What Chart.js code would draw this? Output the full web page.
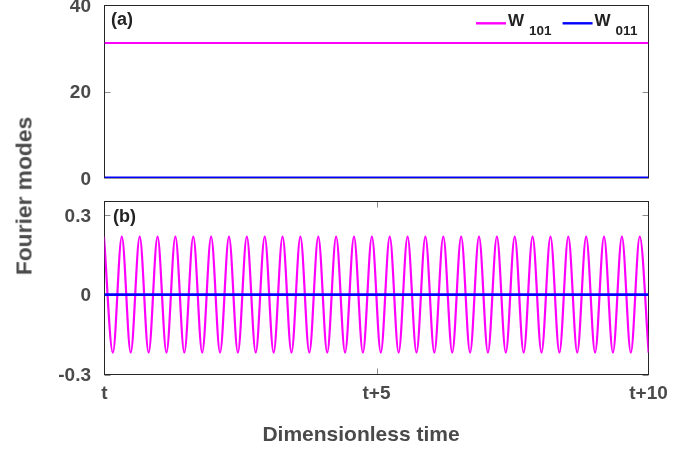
<!DOCTYPE html>
<html>
<head>
<meta charset="utf-8">
<script src="https://cdn.jsdelivr.net/npm/chart.js@4"></script>
<style>
  body { margin: 0; background: #fff; width: 685px; height: 450px; position: relative; overflow: hidden;
         font-family: 'Liberation Sans', Arial, sans-serif; }
  #panelA { position: absolute; left: 0; top: 0; width: 685px; height: 190px; }
  #panelB { position: absolute; left: 0; top: 190px; width: 685px; height: 260px; }
  .axtitle { position: absolute; font-weight: bold; color: #4a4a4a; white-space: nowrap; }
  .ytitle { left: 23.5px; top: 196px; transform: translate(-50%, -50%) rotate(-90deg); font-size: 22.8px; }
  .xtitle { left: 361px; top: 434px; transform: translate(-50%, -50%); font-size: 21px; }
</style>
</head>
<body>
<div id="panelA"><canvas id="chartA"></canvas></div>
<div id="panelB"><canvas id="chartB"></canvas></div>
<div class="axtitle ytitle">Fourier modes</div>
<div class="axtitle xtitle">Dimensionless time</div>

<script>
// time axis
const timeSpan = [0, 10];
const timeTicks = [0, 5, 10];
const timeTickLabels = ['t', 't+5', 't+10'];

// (a) mode amplitudes
const topTicks = [0, 20, 40];
const w101Mean = [31.3, 31.3];
const w011Mean = [0, 0];

// (b) fluctuations: W101 oscillates, W011 stays at zero
const bottomTicks = [-0.3, 0, 0.3];
const peakTimes = [-0.01, 0.318, 0.647, 0.975, 1.303, 1.632, 1.960, 2.288, 2.616, 2.945,
  3.273, 3.601, 3.930, 4.258, 4.586, 4.915, 5.243, 5.571, 5.899, 6.228,
  6.556, 6.884, 7.213, 7.541, 7.869, 8.198, 8.526, 8.854, 9.182, 9.511, 9.839];
const troughTimes = [0.154, 0.482, 0.811, 1.139, 1.467, 1.796, 2.124, 2.452, 2.780, 3.109,
  3.437, 3.765, 4.094, 4.422, 4.750, 5.079, 5.407, 5.735, 6.063, 6.392,
  6.720, 7.048, 7.377, 7.705, 8.033, 8.362, 8.690, 9.018, 9.346, 9.675, 10.003];
const peakValue = 0.218;
const troughValue = -0.218;
const w011Fluct = [0, 0];

// legend entries, in dataset order
const seriesNames = ['W', 'W'];
const seriesSubs = ['101', '011'];
const MAGENTA = '#ff00ff';
const BLUE = '#0000ff';

const FAMILY = "'Liberation Sans', Arial, sans-serif";
const tickColor = '#4a4a4a';
const tickFont = { family: FAMILY, size: 19, weight: 'bold' };

const w101Osc = peakTimes.map(t => ({ x: t, y: peakValue }))
  .concat(troughTimes.map(t => ({ x: t, y: troughValue })))
  .sort((a, b) => a.x - b.x);

const pairs = (xs, ys) => xs.map((t, i) => ({ x: t, y: ys[i] }));

// box frame, inward tick marks and panel letter
const framePlugin = {
  id: 'frame',
  beforeDatasetsDraw(chart, args, opts) {
    const { ctx, chartArea: a, scales: { x, y } } = chart;
    ctx.save();
    ctx.lineWidth = 1;
    ctx.strokeStyle = '#8c8c8c';
    ctx.beginPath();
    (opts.yTicks || []).forEach(v => {
      const py = Math.round(y.getPixelForValue(v)) + 0.5;
      ctx.moveTo(a.left, py); ctx.lineTo(a.left + 6, py);
      ctx.moveTo(a.right - 6, py); ctx.lineTo(a.right, py);
    });
    (opts.xTicks || []).forEach(v => {
      const px = Math.round(x.getPixelForValue(v)) + 0.5;
      ctx.moveTo(px, a.top); ctx.lineTo(px, a.top + 6);
      ctx.moveTo(px, a.bottom - 6); ctx.lineTo(px, a.bottom);
    });
    ctx.stroke();
    ctx.strokeStyle = '#262626';
    ctx.strokeRect(a.left, a.top, a.right - a.left, a.bottom - a.top);
    ctx.fillStyle = '#222';
    ctx.font = 'bold 18px ' + FAMILY;
    ctx.textBaseline = 'middle';
    ctx.fillText(opts.tag, a.left + opts.tagDx, a.top + opts.tagDy);
    ctx.restore();
  }
};

// legend with subscripted labels
const subLegendPlugin = {
  id: 'subLegend',
  afterDraw(chart, args, opts) {
    if (!opts.show) return;
    const { ctx } = chart;
    let x = opts.x;
    const y = opts.y;
    ctx.save();
    chart.data.datasets.forEach((ds, i) => {
      ctx.strokeStyle = ds.borderColor;
      ctx.lineWidth = 2.4;
      ctx.beginPath(); ctx.moveTo(x, y); ctx.lineTo(x + 30, y); ctx.stroke();
      x += 32;
      ctx.fillStyle = '#222';
      ctx.textBaseline = 'alphabetic';
      ctx.font = 'bold 17px ' + FAMILY;
      ctx.fillText(seriesNames[i], x, y + 2.5);
      x += ctx.measureText(seriesNames[i]).width + 5;
      ctx.font = 'bold 13.5px ' + FAMILY;
      ctx.fillText(seriesSubs[i], x, y + 11.7);
      x += ctx.measureText(seriesSubs[i]).width + 11;
    });
    ctx.restore();
  }
};

// keep tick labels from pushing the plot area inwards
function noPad(s) {
  s.paddingTop = 0; s.paddingBottom = 0; s.paddingLeft = 0; s.paddingRight = 0;
}

function yAxis(min, max, ticks) {
  return {
    min: min, max: max,
    afterBuildTicks: s => { s.ticks = ticks.map(v => ({ value: v })); },
    afterFit: s => { s.width = 104.5; noPad(s); },
    grid: { display: false, drawTicks: false },
    border: { display: false },
    ticks: { color: tickColor, font: tickFont, padding: 13.5, labelOffset: 1.5, callback: v => String(v) }
  };
}

function lineSet(label, data, color, width, order) {
  return { label: label, data: data, borderColor: color, borderWidth: width, pointRadius: 0, order: order };
}

new Chart(document.getElementById('chartA'), {
  type: 'line',
  data: {
    datasets: [
      lineSet('W101', pairs(timeSpan, w101Mean), MAGENTA, 2.2, 1),
      lineSet('W011', pairs(timeSpan, w011Mean), BLUE, 2.8, 0)
    ]
  },
  options: {
    responsive: true,
    maintainAspectRatio: false,
    animation: false,
    layout: { padding: { top: 5.5, right: 36.5, bottom: 12, left: 0 } },
    plugins: {
      legend: { display: false },
      tooltip: { enabled: false },
      frame: { tag: '(a)', tagDx: 6.5, tagDy: 15, yTicks: [20] },
      subLegend: { show: true, x: 476, y: 23.3 }
    },
    scales: {
      x: {
        type: 'linear', min: timeSpan[0], max: timeSpan[1],
        afterFit: s => { s.height = 0; noPad(s); },
        grid: { display: false, drawTicks: false },
        border: { display: false },
        ticks: { display: false }
      },
      y: yAxis(0, 40, topTicks)
    }
  },
  plugins: [framePlugin, subLegendPlugin]
});

const oscSet = lineSet('W101', w101Osc, MAGENTA, 2.2, 1);
oscSet.cubicInterpolationMode = 'monotone';

new Chart(document.getElementById('chartB'), {
  type: 'line',
  data: {
    datasets: [
      oscSet,
      lineSet('W011', pairs(timeSpan, w011Fluct), BLUE, 2.8, 0)
    ]
  },
  options: {
    responsive: true,
    maintainAspectRatio: false,
    animation: false,
    layout: { padding: { top: 11.5, right: 36.5, bottom: 0, left: 0 } },
    plugins: {
      legend: { display: false },
      tooltip: { enabled: false },
      frame: { tag: '(b)', tagDx: 8.5, tagDy: 16, yTicks: bottomTicks, xTicks: [5] }
    },
    scales: {
      x: {
        type: 'linear', min: timeSpan[0], max: timeSpan[1],
        afterBuildTicks: s => { s.ticks = timeTicks.map(v => ({ value: v })); },
        afterFit: s => { s.height = 75.5; noPad(s); },
        grid: { display: false, drawTicks: false },
        border: { display: false },
        ticks: { color: tickColor, font: tickFont, padding: 8, maxRotation: 0,
                 callback: v => timeTickLabels[timeTicks.indexOf(v)] }
      },
      y: yAxis(-0.3, 0.35, bottomTicks)
    }
  },
  plugins: [framePlugin]
});
</script>
</body>
</html>
